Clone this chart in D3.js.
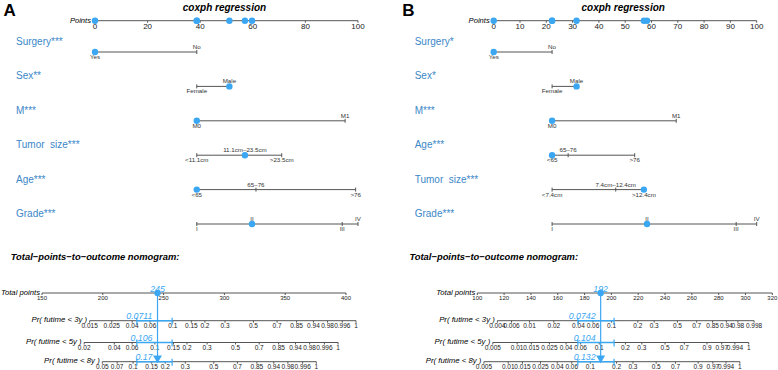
<!DOCTYPE html>
<html>
<head>
<meta charset="utf-8">
<script src="https://cdn.jsdelivr.net/npm/d3@7/dist/d3.min.js"></script>
<style>
    body { margin: 0; background: #fff; }
    text { font-family: "Liberation Sans", Arial, sans-serif; }
</style>
</head>
<body>
<script>

// ---- data ----
var panelLetters = ["A", "B"];
var titleText = "coxph regression";
var bottomTitle = "Total\u2212points\u2212to\u2212outcome nomogram:";
var probAxisNames = ["Pr( futime < 3y )", "Pr( futime < 5y )", "Pr( futime < 8y )"];

var pointsTicksA = [0, 20, 40, 60, 80, 100];
var pointsTicksB = [0, 10, 20, 30, 40, 50, 60, 70, 80, 90, 100];

var variablesA = ["Surgery***", "Sex**", "M***", "Tumor  size***", "Age***", "Grade***"];
var levelsA = [["Yes", "No"], ["Female", "Male"], ["M0", "M1"],
               ["<11.1cm", "11.1cm\u201323.5cm", ">23.5cm"], ["<65", "65\u201376", ">76"],
               ["I", "II", "III", "IV"]];
var levelPointsA = [[0, 38.7], [38.7, 51.1], [38.7, 95.1], [38.7, 57.0, 71.0],
                    [38.7, 61.2, 99.1], [38.7, 59.7, 94.0, 100]];
var observedA = [0, 1, 0, 1, 0, 1];

var variablesB = ["Surgery*", "Sex*", "M***", "Age***", "Tumor  size***", "Grade***"];
var levelsB = [["Yes", "No"], ["Female", "Male"], ["M0", "M1"],
               ["<65", "65\u201376", ">76"], ["<7.4cm", "7.4cm\u201312.4cm", ">12.4cm"],
               ["I", "II", "III", "IV"]];
var levelPointsB = [[0, 22.2], [22.2, 31.5], [22.2, 69.4], [22.2, 28.3, 53.6],
                    [22.2, 46.4, 57.1], [22.2, 58.3, 92.2, 100]];
var observedB = [0, 1, 0, 0, 2, 1];

var totalTicksA = [150, 200, 250, 300, 350, 400];
var totalTicksB = [100, 120, 140, 160, 180, 200, 220, 240, 260, 280, 300, 320];

var probTicksA = [
    [0.015, 0.025, 0.04, 0.06, 0.1, 0.15, 0.2, 0.3, 0.5, 0.7, 0.85, 0.94, 0.98, 0.996, 0.9995],
    [0.02, 0.04, 0.06, 0.1, 0.15, 0.2, 0.3, 0.5, 0.7, 0.85, 0.94, 0.98, 0.996, 0.9995],
    [0.05, 0.07, 0.1, 0.15, 0.2, 0.3, 0.5, 0.7, 0.85, 0.94, 0.98, 0.996, 0.9995]
];
var probTicksB = [
    [0.004, 0.006, 0.01, 0.02, 0.04, 0.06, 0.1, 0.2, 0.3, 0.5, 0.7, 0.85, 0.94, 0.98, 0.998],
    [0.005, 0.01, 0.015, 0.025, 0.04, 0.06, 0.1, 0.2, 0.3, 0.5, 0.7, 0.9, 0.97, 0.994, 0.9995],
    [0.005, 0.01, 0.015, 0.025, 0.04, 0.06, 0.1, 0.2, 0.3, 0.5, 0.7, 0.9, 0.97, 0.994, 0.9995]
];

var obsTotalA = 245;
var obsProbA = [0.0711, 0.106, 0.17];
var ciTotalA = [228, 257];
var slopeA = 0.0284;     // linear predictor per total point

var obsTotalB = 192;
var obsProbB = [0.0742, 0.104, 0.132];
var ciTotalB = [175, 202];
var slopeB = 0.03837;

// ---- layout ----
var width = 778, height = 370;
var blue = "#3ba7f3";
var labelBlue = "#3c87c8";
var axisGray = "#555";
var pointsY = 20.7;
var rowStart = 52, rowGap = 34.4;
var totalY = 293;
var probY = [320.7, 342.5, 361.7];

var svg = d3.select("body").append("svg")
    .attr("width", width)
    .attr("height", height);

svg.append("rect").attr("width", width).attr("height", height).attr("fill", "#fff");

function cloglog(p) {
    return Math.log(-Math.log(1 - p));
}

function probLabel(p) {
    return p >= 0.9995 ? "1" : String(p);
}

function drawPanel(cfg) {

    var g = svg.append("g").attr("transform", "translate(" + cfg.x + ",0)");

    var xPoints = d3.scaleLinear().domain([0, 100]).range([95, 358]);
    var xTotal = d3.scaleLinear().domain(cfg.totalDomain).range(cfg.totalRange);

    g.append("text")
        .attr("x", 3.5).attr("y", 15.5)
        .style("font-size", "17px").style("font-weight", "bold")
        .text(cfg.letter);

    g.append("text")
        .attr("x", (xPoints(0) + xPoints(100)) / 2 - 2)
        .attr("y", 10.5)
        .attr("text-anchor", "middle")
        .style("font-size", "10px").style("font-weight", "bold").style("font-style", "italic")
        .text(titleText);

    // Points axis
    g.append("line")
        .attr("x1", xPoints(0)).attr("x2", xPoints(100))
        .attr("y1", pointsY).attr("y2", pointsY)
        .attr("stroke", axisGray).attr("stroke-width", 1);

    g.append("text")
        .attr("x", xPoints(0) - 4).attr("y", pointsY + 2.5)
        .attr("text-anchor", "end")
        .style("font-size", "7.6px").style("font-style", "italic")
        .text("Points");

    var pTicks = g.selectAll(".ptick").data(cfg.pointsTicks).enter().append("g")
        .attr("transform", function(d){ return "translate(" + xPoints(d) + "," + pointsY + ")"; });
    pTicks.append("line").attr("y2", 2).attr("stroke", axisGray);
    pTicks.append("text")
        .attr("y", 8.3)
        .attr("text-anchor", "middle")
        .style("font-size", "8px").attr("fill", "#222")
        .text(function(d){ return d; });

    // variables
    cfg.variables.forEach(function(name, i){
        var y = rowStart + i * rowGap;
        var pts = cfg.levelPoints[i];

        g.append("text")
            .attr("x", 16).attr("y", y - 7)
            .attr("fill", labelBlue)
            .attr("xml:space", "preserve")
            .style("font-size", "10px").style("white-space", "pre")
            .text(name);

        g.append("line")
            .attr("x1", xPoints(d3.min(pts))).attr("x2", xPoints(d3.max(pts)))
            .attr("y1", y).attr("y2", y)
            .attr("stroke", axisGray);

        pts.forEach(function(v, j){
            g.append("line")
                .attr("x1", xPoints(v)).attr("x2", xPoints(v))
                .attr("y1", y - 2).attr("y2", y + 2)
                .attr("stroke", axisGray);
            g.append("text")
                .attr("x", xPoints(v))
                .attr("y", j % 2 == 0 ? y + 7 : y - 3)
                .attr("text-anchor", "middle")
                .style("font-size", "6.2px").attr("fill", "#333")
                .text(cfg.levels[i][j]);
        });

        var obs = pts[cfg.observed[i]];
        g.append("circle").attr("cx", xPoints(obs)).attr("cy", y).attr("r", 3.2).attr("fill", blue);
        g.append("circle").attr("cx", xPoints(obs)).attr("cy", pointsY).attr("r", 3.2).attr("fill", blue);
    });

    g.append("text")
        .attr("x", 10.7).attr("y", 260)
        .style("font-size", "9.4px").style("font-weight", "bold").style("font-style", "italic")
        .text(bottomTitle);

    // Total points axis
    g.append("line")
        .attr("x1", cfg.totalRange[0]).attr("x2", cfg.totalRange[1])
        .attr("y1", totalY).attr("y2", totalY)
        .attr("stroke", axisGray);

    g.append("text")
        .attr("x", cfg.totalRange[0] - 2).attr("y", totalY + 1.5)
        .attr("text-anchor", "end")
        .style("font-size", "7.7px").style("font-style", "italic")
        .text("Total points");

    var tTicks = g.selectAll(".ttick").data(cfg.totalTicks).enter().append("g")
        .attr("transform", function(d){ return "translate(" + xTotal(d) + "," + totalY + ")"; });
    tTicks.append("line").attr("y2", 2).attr("stroke", axisGray);
    tTicks.append("text")
        .attr("y", 7.2)
        .attr("text-anchor", "middle")
        .style("font-size", "6px").attr("fill", "#222")
        .text(function(d){ return d; });

    var xObs = xTotal(cfg.obsTotal);

    // probability axes, each a cloglog scale tied to the total points axis
    cfg.probTicks.forEach(function(ticks, i){
        var y = probY[i];
        var alpha = cloglog(cfg.obsProb[i]) - cfg.slope * cfg.obsTotal;
        var lpScale = d3.scaleLinear()
            .domain(cfg.totalDomain.map(function(t){ return alpha + cfg.slope * t; }))
            .range(cfg.totalRange);
        var xProb = function(p){ return lpScale(cloglog(p)); };

        g.append("line")
            .attr("x1", xProb(ticks[0])).attr("x2", xProb(ticks[ticks.length - 1]))
            .attr("y1", y).attr("y2", y)
            .attr("stroke", axisGray);

        g.append("text")
            .attr("x", xProb(ticks[0]) - 2.5).attr("y", y + 1.5)
            .attr("text-anchor", "end")
            .style("font-size", "7.8px").style("font-style", "italic")
            .text(probAxisNames[i]);

        var pt = g.selectAll(".prtick" + i).data(ticks).enter().append("g")
            .attr("transform", function(d){ return "translate(" + xProb(d) + "," + y + ")"; });
        pt.append("line").attr("y2", 2).attr("stroke", axisGray);
        pt.append("text")
            .attr("y", 7.3)
            .attr("text-anchor", "middle")
            .style("font-size", "6.5px").attr("fill", "#222")
            .text(function(d){ return probLabel(d); });

        // confidence interval
        g.append("line")
            .attr("x1", xTotal(cfg.ciTotal[0])).attr("x2", xTotal(cfg.ciTotal[1]))
            .attr("y1", y).attr("y2", y)
            .attr("stroke", blue).attr("stroke-width", 1.5);
        cfg.ciTotal.forEach(function(c){
            g.append("line")
                .attr("x1", xTotal(c)).attr("x2", xTotal(c))
                .attr("y1", y - 3).attr("y2", y + 4)
                .attr("stroke", blue).attr("stroke-width", 1.2);
        });

        g.append("text")
            .attr("x", xProb(cfg.obsProb[i]) - 5).attr("y", y - 1.5)
            .attr("text-anchor", "end")
            .attr("fill", blue)
            .style("font-size", "8.8px").style("font-style", "italic")
            .text(String(cfg.obsProb[i]));
    });

    g.append("line")
        .attr("x1", xObs).attr("x2", xObs)
        .attr("y1", totalY).attr("y2", probY[2] - 5)
        .attr("stroke", blue).attr("stroke-width", 1.2);

    g.append("path")
        .attr("d", d3.symbol().type(d3.symbolTriangle).size(34)())
        .attr("transform", "translate(" + xObs + "," + (probY[2] - 3.6) + ") rotate(180)")
        .attr("fill", blue);

    g.append("circle").attr("cx", xObs).attr("cy", totalY).attr("r", 3.2).attr("fill", blue);

    g.append("text")
        .attr("x", xObs).attr("y", totalY - 1.5)
        .attr("text-anchor", "middle")
        .attr("fill", blue)
        .style("font-size", "8.8px").style("font-style", "italic")
        .text(cfg.obsTotal);
}

drawPanel({
    x: 0, letter: panelLetters[0], pointsTicks: pointsTicksA,
    variables: variablesA, levels: levelsA, levelPoints: levelPointsA, observed: observedA,
    totalTicks: totalTicksA, totalDomain: [150, 400], totalRange: [42, 346],
    probTicks: probTicksA, obsTotal: obsTotalA, obsProb: obsProbA, ciTotal: ciTotalA, slope: slopeA
});

drawPanel({
    x: 398.7, letter: panelLetters[1], pointsTicks: pointsTicksB,
    variables: variablesB, levels: levelsB, levelPoints: levelPointsB, observed: observedB,
    totalTicks: totalTicksB, totalDomain: [100, 320], totalRange: [78.6, 373.6],
    probTicks: probTicksB, obsTotal: obsTotalB, obsProb: obsProbB, ciTotal: ciTotalB, slope: slopeB
});

</script>
</body>
</html>
